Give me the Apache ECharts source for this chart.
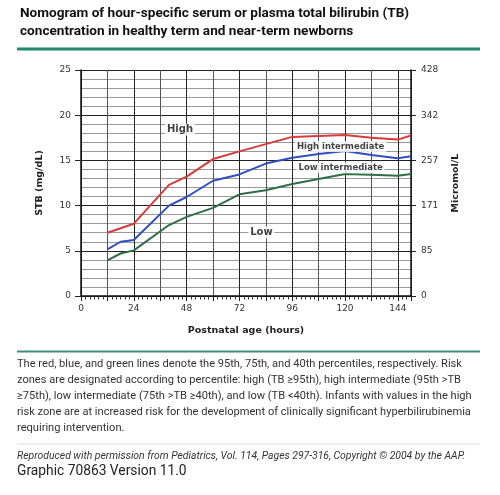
<!DOCTYPE html>
<html>
<head>
<meta charset="utf-8">
<script src="https://cdn.jsdelivr.net/npm/echarts@6/dist/echarts.min.js"></script>
<style>
html,body{margin:0;padding:0;background:#fff;}
#chart{width:500px;height:495px;}
</style>
</head>
<body>
<div id="chart"></div>
<script>
// ---- data ----
const hours = [12, 18, 24, 40, 48, 60, 72, 84, 96, 108, 120, 132, 144, 150];
const p95 = [7.0, 7.5, 8.0, 12.3, 13.2, 15.15, 16.0, 16.8, 17.6, 17.7, 17.8, 17.5, 17.3, 17.75];
const p75 = [5.15, 6.0, 6.2, 10.0, 10.95, 12.75, 13.45, 14.65, 15.3, 15.7, 16.05, 15.6, 15.25, 15.45];
const p40 = [3.95, 4.7, 5.05, 7.85, 8.75, 9.75, 11.25, 11.7, 12.4, 12.95, 13.5, 13.4, 13.3, 13.5];
const micromolLabels = ['0', '85', '171', '257', '342', '428'];
const zoneNames = ['High', 'High intermediate', 'Low intermediate', 'Low'];
const zoneHours = [45, 118, 118, 82];
const zoneValues = [18.4, 16.55, 14.2, 7.05];

const titleLines = [
  'Nomogram of hour-specific serum or plasma total bilirubin (TB)',
  'concentration in healthy term and near-term newborns'
];
const captionLines = [
  'The red, blue, and green lines denote the 95th, 75th, and 40th percentiles, respectively. Risk',
  'zones are designated according to percentile: high (TB \u226595th), high intermediate (95th >TB',
  '\u226575th), low intermediate (75th >TB \u226540th), and low (TB <40th). Infants with values in the high',
  'risk zone are at increased risk for the development of clinically significant hyperbilirubinemia',
  'requiring intervention.'
];
const sourceLine = 'Reproduced with permission from Pediatrics, Vol. 114, Pages 297-316, Copyright \u00a9 2004 by the AAP.';
const graphicLine = 'Graphic 70863 Version 11.0';

// ---- chart ----
const zip = (xs, ys) => xs.map((x, i) => [x, ys[i]]);
const F = 'DejaVu Sans';
const chart = echarts.init(document.getElementById('chart'), null, {renderer: 'canvas'});

const graphics = [];
titleLines.forEach((t, i) => graphics.push({
  type: 'text', left: 20, top: 7 + i * 18,
  style: {text: t, font: 'bold 13.6px Roboto', fill: '#111'}
}));
graphics.push({type: 'rect', shape: {x: 17, y: 47.5, width: 463, height: 3}, style: {fill: '#21896a'}});
graphics.push({type: 'rect', shape: {x: 17, y: 350.5, width: 463, height: 2}, style: {fill: '#3c8f78'}});
captionLines.forEach((t, i) => graphics.push({
  type: 'text', left: 17, top: 358.5 + i * 16,
  style: {text: t, font: '11.1px Roboto', fill: '#333'}
}));
graphics.push({type: 'rect', shape: {x: 17, y: 443.5, width: 463, height: 1}, style: {fill: '#dddddd'}});
graphics.push({type: 'text', left: 17, top: 451, style: {text: sourceLine, font: 'italic 10.4px Roboto', fill: '#333'}});
graphics.push({type: 'text', left: 17, top: 465, style: {text: graphicLine, font: '13.8px Roboto', fill: '#222'}});

const option = {
  backgroundColor: '#ffffff',
  animation: false,
  grid: {left: 81, right: 89, top: 70, bottom: 199, containLabel: false},
  graphic: graphics,
  xAxis: {
    type: 'value', min: 0, max: 150, interval: 12,
    name: 'Postnatal age (hours)', nameLocation: 'middle', nameGap: 30,
    nameTextStyle: {fontFamily: F, fontWeight: 'bold', fontSize: 9.5, color: '#222'},
    axisLine: {show: true, onZero: false, lineStyle: {color: '#111', width: 1.5}},
    axisTick: {show: true, length: 5, lineStyle: {color: '#222'}},
    minorTick: {show: true, splitNumber: 6, length: 3.5, lineStyle: {color: '#333'}},
    axisLabel: {fontFamily: F, fontSize: 9, color: '#333', margin: 8,
      formatter: v => (v % 24 === 0 ? String(v) : '')},
    splitLine: {show: true, lineStyle: {color: ['#222', '#555'], width: 1}}
  },
  yAxis: [{
    type: 'value', min: 0, max: 25, interval: 5, position: 'left',
    name: 'STB (mg/dL)', nameLocation: 'middle', nameGap: 36,
    nameTextStyle: {fontFamily: F, fontWeight: 'bold', fontSize: 9.5, color: '#222'},
    axisLine: {show: true, onZero: false, lineStyle: {color: '#111', width: 1.5}},
    axisTick: {show: true, length: 6, lineStyle: {color: '#222'}},
    minorTick: {show: false, splitNumber: 5},
    axisLabel: {fontFamily: F, fontSize: 9, color: '#333', margin: 10},
    splitLine: {show: true, lineStyle: {color: '#222', width: 1.2}},
    minorSplitLine: {show: true, lineStyle: {color: '#808080', width: 0.8}}
  }, {
    type: 'value', min: 0, max: 25, interval: 5, position: 'right',
    name: 'Micromol/L', nameLocation: 'middle', nameGap: 40, nameRotate: 90,
    nameTextStyle: {fontFamily: F, fontWeight: 'bold', fontSize: 9.5, color: '#222'},
    axisLine: {show: true, onZero: false, lineStyle: {color: '#111', width: 1.5}},
    axisTick: {show: true, length: 5, lineStyle: {color: '#222'}},
    axisLabel: {fontFamily: F, fontSize: 9, color: '#333', margin: 10,
      formatter: v => micromolLabels[Math.round(v / 5)]},
    splitLine: {show: false}
  }],
  series: [
    {name: '95th', type: 'line', data: zip(hours, p95), showSymbol: false, lineStyle: {color: '#d93a3a', width: 2}, z: 5},
    {name: '75th', type: 'line', data: zip(hours, p75), showSymbol: false, lineStyle: {color: '#2f4fc0', width: 2}, z: 5},
    {name: '40th', type: 'line', data: zip(hours, p40), showSymbol: false, lineStyle: {color: '#2e6e45', width: 2}, z: 5},
    {
      name: 'zones', type: 'scatter', symbolSize: 0, z: 10,
      data: zoneNames.map((n, i) => ({value: [zoneHours[i], zoneValues[i]], name: n})),
      label: {
        show: true, position: 'inside', formatter: p => p.name,
        fontFamily: F, fontWeight: 'bold', color: '#111',
        backgroundColor: '#fff', padding: [1, 2]
      },
      emphasis: {disabled: true}
    }
  ]
};
option.series[3].data.forEach(d => {
  d.label = {fontSize: d.name.indexOf('intermediate') >= 0 ? 8.5 : 10};
});
chart.setOption(option);
</script>
</body>
</html>
